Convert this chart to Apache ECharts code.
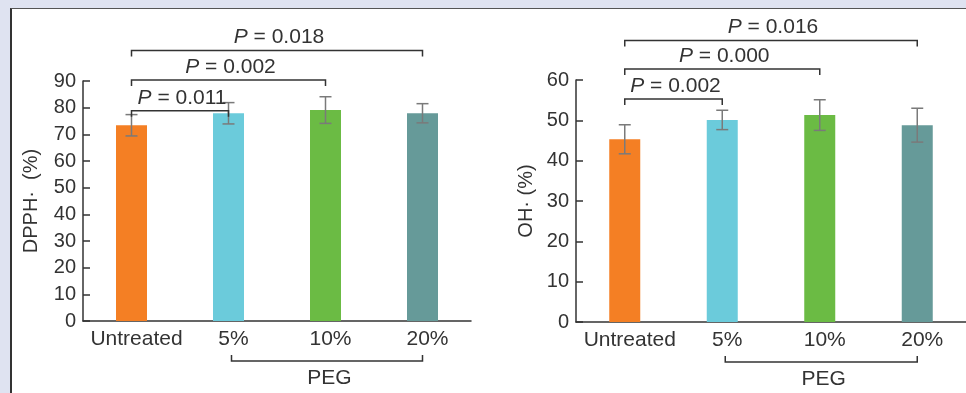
<!DOCTYPE html>
<html>
<head>
<meta charset="utf-8">
<script src="https://cdn.jsdelivr.net/npm/echarts@6/dist/echarts.min.js"></script>
<style>
  html, body { margin: 0; padding: 0; background: #dfe3f1; }
  #frame { position: absolute; left: 10px; top: 8px; width: 956px; height: 385px; background: #ffffff; border-top: 1px solid #555; border-left: 2px solid #333; box-sizing: border-box; }
  #chart { position: absolute; left: 0; top: 0; width: 966px; height: 393px; }
</style>
</head>
<body>
<div id="frame"></div>
<div id="chart"></div>
<script>
// ---- data ----
const categories = ['Untreated', '5%', '10%', '20%'];
const barColors = ['#f47f24', '#6bcbdb', '#6bbb44', '#669a99'];

const dpphMean = [73.4, 77.9, 79.1, 77.9];
const dpphErr = [4.0, 4.0, 5.0, 3.6];
const dpphPairs = [[0, 1], [0, 2], [0, 3]];
const dpphLevels = [78.8, 90.4, 101.4];
const dpphPLabels = ['0.011', '0.002', '0.018'];

const ohMean = [45.3, 50.1, 51.3, 48.8];
const ohErr = [3.6, 2.4, 3.8, 4.2];
const ohPairs = [[0, 1], [0, 2], [0, 3]];
const ohLevels = [55.3, 62.7, 69.8];
const ohPLabels = ['0.002', '0.000', '0.016'];

const groupLabel = 'PEG';
const groupRange = [1, 3];

// ---- chart ----
const FONT = 'Liberation Sans, Arial, sans-serif';
const FS = 21;
const TXT = '#333333';
const chart = echarts.init(document.getElementById('chart'), null, { renderer: 'canvas' });

function barSeries(idx, mean) {
  return {
    type: 'bar', xAxisIndex: idx, yAxisIndex: idx, barWidth: 31,
    data: mean.map((v, i) => ({ value: v, itemStyle: { color: barColors[i] } })),
    z: 2
  };
}

function errSeries(idx, mean, err) {
  return {
    type: 'custom', xAxisIndex: idx, yAxisIndex: idx, z: 5,
    data: mean.map((m, i) => [i, m - err[i], m + err[i]]),
    renderItem: function (params, api) {
      const lo = api.coord([api.value(0), api.value(1)]);
      const hi = api.coord([api.value(0), api.value(2)]);
      const w = 6;
      const st = { stroke: '#7a7a7a', lineWidth: 1.5, fill: null };
      return { type: 'group', children: [
        { type: 'line', shape: { x1: lo[0], y1: lo[1], x2: hi[0], y2: hi[1] }, style: st },
        { type: 'line', shape: { x1: lo[0] - w, y1: lo[1], x2: lo[0] + w, y2: lo[1] }, style: st },
        { type: 'line', shape: { x1: hi[0] - w, y1: hi[1], x2: hi[0] + w, y2: hi[1] }, style: st }
      ] };
    }
  };
}

function bracketSeries(idx, pairs, levels, labels) {
  return {
    type: 'custom', xAxisIndex: idx, yAxisIndex: idx, z: 6, clip: false,
    data: pairs.map((p, i) => [p[0], p[1], levels[i]]),
    encode: { x: [0, 1], y: 2 },
    renderItem: function (params, api) {
      const a = api.coord([api.value(0), api.value(2)]);
      const b = api.coord([api.value(1), api.value(2)]);
      const t = 6;
      return { type: 'group', children: [
        { type: 'polyline', shape: { points: [[a[0], a[1] + t], [a[0], a[1]], [b[0], b[1]], [b[0], b[1] + t]] },
          style: { stroke: '#333', lineWidth: 1.5, fill: null } },
        { type: 'text', x: (a[0] + b[0]) / 2 + 2, y: a[1] - 13,
          style: { text: '{i|P} = ' + labels[params.dataIndex], align: 'center', verticalAlign: 'middle',
            fill: TXT, font: FS + 'px ' + FONT,
            rich: { i: { fontStyle: 'italic', fontSize: FS, fontFamily: FONT, fill: TXT } } } }
      ] };
    }
  };
}

function groupSeries(idx) {
  return {
    type: 'custom', xAxisIndex: idx, yAxisIndex: idx, z: 6, clip: false,
    data: [[groupRange[0], groupRange[1], 0]],
    encode: { x: [0, 1], y: 2 },
    renderItem: function (params, api) {
      const a = api.coord([api.value(0), 0]);
      const b = api.coord([api.value(1), 0]);
      const y = a[1] + 40;
      return { type: 'group', children: [
        { type: 'polyline', shape: { points: [[a[0] + 3, y - 6], [a[0] + 3, y], [b[0], y], [b[0], y - 6]] },
          style: { stroke: '#333', lineWidth: 1.5, fill: null } },
        { type: 'text', x: (a[0] + b[0]) / 2 + 4, y: y + 17,
          style: { text: groupLabel, align: 'center', verticalAlign: 'middle', fill: TXT, font: FS + 'px ' + FONT } }
      ] };
    }
  };
}

function xAxisCfg(idx) {
  return {
    type: 'category', gridIndex: idx, data: categories,
    axisLine: { lineStyle: { color: '#333', width: 1.5 } },
    axisTick: { show: false },
    axisLabel: { interval: 0, color: TXT, fontSize: FS, fontFamily: FONT, margin: 8, padding: [0, 0, 0, 10] }
  };
}
function yAxisCfg(idx, max, name, gap) {
  return {
    type: 'value', gridIndex: idx, min: 0, max: max, interval: 10,
    name: name, nameLocation: 'middle', nameGap: gap,
    nameTextStyle: { color: TXT, fontSize: 20, fontFamily: FONT },
    splitLine: { show: false },
    axisLine: { show: true, lineStyle: { color: '#333', width: 1.5 } },
    axisTick: { show: true, inside: true, length: 7, lineStyle: { color: '#333', width: 1.5 } },
    axisLabel: { color: TXT, fontSize: 20, fontFamily: FONT, margin: 7 }
  };
}

chart.setOption({
  backgroundColor: 'transparent',
  animation: false,
  grid: [
    { left: 83, top: 81, width: 388, height: 240 },
    { left: 576, top: 80, width: 392, height: 242 }
  ],
  xAxis: [xAxisCfg(0), xAxisCfg(1)],
  yAxis: [yAxisCfg(0, 90, 'DPPH·  (%)', 42), yAxisCfg(1, 60, 'OH· (%)', 40)],
  series: [
    barSeries(0, dpphMean), errSeries(0, dpphMean, dpphErr), bracketSeries(0, dpphPairs, dpphLevels, dpphPLabels), groupSeries(0),
    barSeries(1, ohMean), errSeries(1, ohMean, ohErr), bracketSeries(1, ohPairs, ohLevels, ohPLabels), groupSeries(1)
  ]
});
</script>
</body>
</html>
